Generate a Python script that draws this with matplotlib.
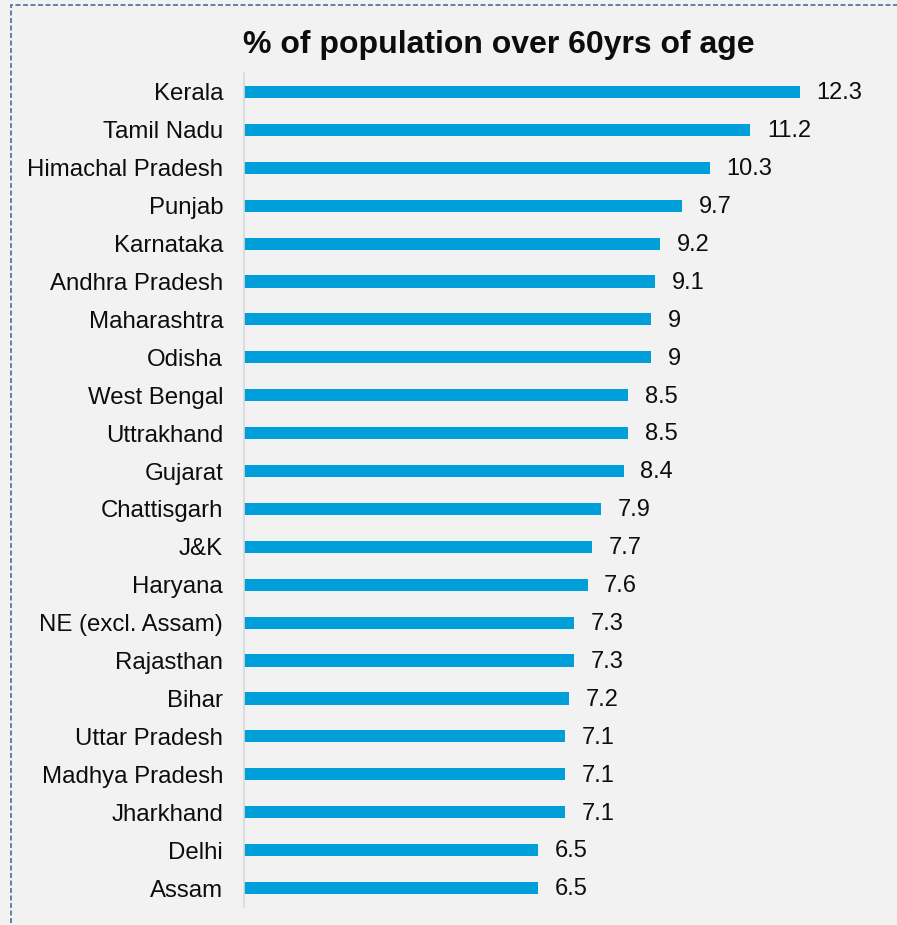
import matplotlib.pyplot as plt
from matplotlib.patches import Rectangle

# Доля населения старше 60 лет по штатам
states = [
    "Kerala", "Tamil Nadu", "Himachal Pradesh", "Punjab", "Karnataka",
    "Andhra Pradesh", "Maharashtra", "Odisha", "West Bengal", "Uttrakhand",
    "Gujarat", "Chattisgarh", "J&K", "Haryana", "NE (excl. Assam)",
    "Rajasthan", "Bihar", "Uttar Pradesh", "Madhya Pradesh", "Jharkhand",
    "Delhi", "Assam",
]
values = [12.3, 11.2, 10.3, 9.7, 9.2, 9.1, 9, 9, 8.5, 8.5, 8.4, 7.9, 7.7,
          7.6, 7.3, 7.3, 7.2, 7.1, 7.1, 7.1, 6.5, 6.5]
value_labels = ["12.3", "11.2", "10.3", "9.7", "9.2", "9.1", "9", "9", "8.5",
                "8.5", "8.4", "7.9", "7.7", "7.6", "7.3", "7.3", "7.2", "7.1",
                "7.1", "7.1", "6.5", "6.5"]

plt.rcParams["font.family"] = ["Liberation Sans", "DejaVu Sans"]
bg = "#F2F2F2"

fig = plt.figure(figsize=(8.97, 9.25), dpi=100, facecolor=bg)
ax = fig.add_axes([0.272, 0.0195, 0.709, 0.9016])
ax.set_facecolor(bg)

y = list(range(len(states)))
ax.barh(y, values, height=0.32, color="#009FD9")

for yi, v, lab in zip(y, values, value_labels):
    ax.annotate(lab, xy=(v, yi), xytext=(12, -1), textcoords="offset points",
                ha="left", va="center", fontsize=17, color="#0D0D0D")

ax.set_yticks(y)
ax.set_yticklabels(states, fontsize=17.3, color="#0D0D0D")
ax.tick_params(axis="y", length=0, pad=15)
ax.set_ylim(len(states) - 0.5, -0.5)
ax.set_xlim(0, 14.07)
ax.set_xticks([])

for side in ["top", "right", "bottom"]:
    ax.spines[side].set_visible(False)
ax.spines["left"].set_color("#D9D9D9")
ax.spines["left"].set_linewidth(1.2)

fig.text(0.556, 0.951, "% of population over 60yrs of age", ha="center",
         va="center", fontsize=23, fontweight="bold", color="#0D0D0D")

# Пунктирная рамка вокруг графика
frame = Rectangle((11 / 897, -0.05), 1.2, 1.05 - 5 / 925, transform=fig.transFigure,
                  fill=False, edgecolor="#4A6E9C", linewidth=1.2,
                  linestyle=(0, (3, 1.5)), clip_on=False)
fig.patches.append(frame)

plt.savefig("out.png", dpi=100, facecolor=bg)
